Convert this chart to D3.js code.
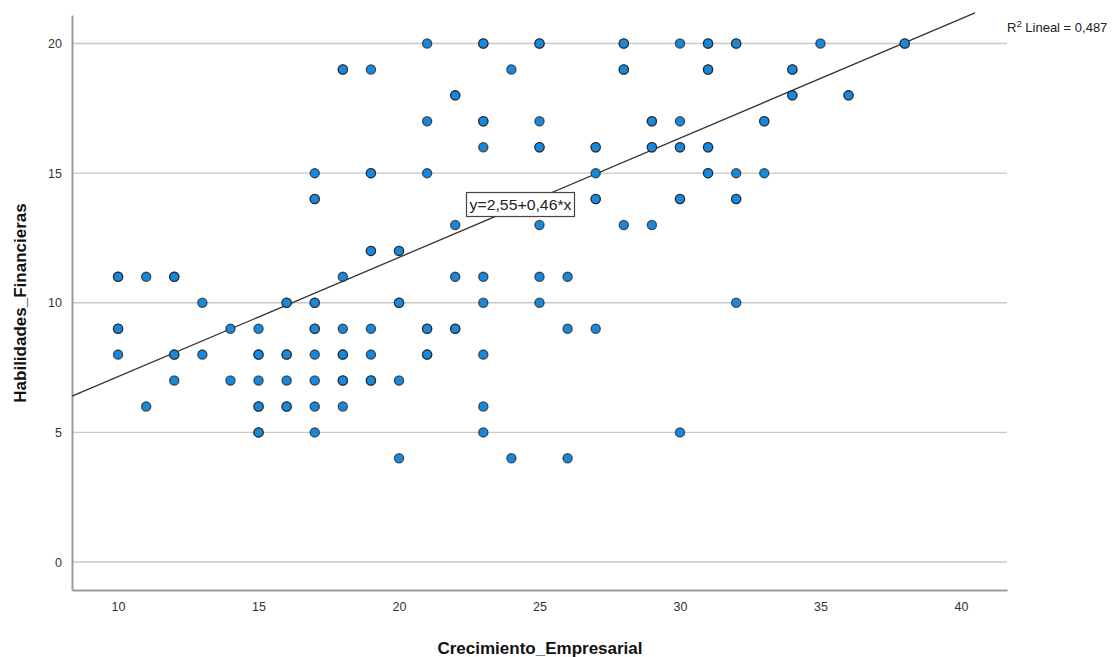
<!DOCTYPE html>
<html><head><meta charset="utf-8">
<script src="https://cdn.jsdelivr.net/npm/d3@7"></script>
<style>body{margin:0;background:#fff;}svg{display:block;font-family:"Liberation Sans",Arial,sans-serif;}</style>
</head><body><svg id="c" width="1119" height="657"></svg>
<script>
// Crecimiento_Empresarial (x), Habilidades_Financieras (y), n = overlap weight
const xVals = [21,23,25,28,30,31,32,35,38, 18,19,24,28,31,34, 22,34,36, 21,23,25,29,30,33, 23,25,27,29,30,31, 17,19,21,27,31,32,33, 17,27,30,32, 22,25,28,29, 19,20, 10,11,12,18,22,23,25,26, 13,16,17,20,23,25,32, 10,14,15,17,18,19,21,22,26,27, 10,12,13,15,16,17,18,19,21,23, 12,14,15,16,17,18,19,20, 11,15,16,17,18,23, 15,17,23,30, 20,24,26];
const yVals = [20,20,20,20,20,20,20,20,20, 19,19,19,19,19,19, 18,18,18, 17,17,17,17,17,17, 16,16,16,16,16,16, 15,15,15,15,15,15,15, 14,14,14,14, 13,13,13,13, 12,12, 11,11,11,11,11,11,11,11, 10,10,10,10,10,10,10, 9,9,9,9,9,9,9,9,9,9, 8,8,8,8,8,8,8,8,8,8, 7,7,7,7,7,7,7,7, 6,6,6,6,6,6, 5,5,5,5, 4,4,4];
const nVals = [1,2,2,2,1,2,2,1,2, 2,1,1,2,2,2, 2,2,2, 1,2,1,2,1,2, 1,2,2,2,2,2, 1,2,1,1,2,1,1, 2,2,2,2, 1,1,1,1, 2,2, 2,1,2,1,1,1,1,1, 1,2,2,2,1,1,1, 2,1,1,2,1,1,2,2,1,1, 1,2,1,2,2,1,2,1,2,1, 1,1,1,1,1,2,2,1, 1,2,2,1,1,1, 2,1,1,1, 1,1,1];
const xTicks = [10,15,20,25,30,35,40];
const yTicks = [0,5,10,15,20];
const intercept = 2.55, slope = 0.46;
const eqLabel = "y=2,55+0,46*x";
const r2Text = " Lineal = 0,487";
const xTitle = "Crecimiento_Empresarial";
const yTitle = "Habilidades_Financieras";

const svg = d3.select("#c");
const L = 72, R = 1007, T = 15, B = 590;
const x = d3.scaleLinear().domain([8.36, 41.64]).range([L, R]);
const y = d3.scaleLinear().domain([-1.08, 21.1]).range([B, T]);

// grid
svg.append("g").selectAll("line").data(yTicks).join("line")
  .attr("x1", L).attr("x2", R).attr("y1", d => y(d)).attr("y2", d => y(d))
  .attr("stroke", "#c8c8c8").attr("stroke-width", 1.3);

// axes
const xa = svg.append("g").attr("transform", `translate(0,${B})`)
  .call(d3.axisBottom(x).tickValues(xTicks).tickSize(0).tickPadding(12).tickFormat(d3.format("d")));
const ya = svg.append("g").attr("transform", `translate(${L},0)`)
  .call(d3.axisLeft(y).tickValues(yTicks).tickSize(0).tickPadding(10).tickFormat(d3.format("d")));
[xa, ya].forEach(a => {
  a.select(".domain").attr("stroke", "#9a9a9a").attr("stroke-width", 2);
  a.selectAll("text").attr("font-size", 12.5).attr("fill", "#333").attr("font-family", "Liberation Sans, Arial, sans-serif");
});

// regression line
const x0 = x.domain()[0], x1 = 40.5;
svg.append("line")
  .attr("x1", x(x0)).attr("y1", y(intercept + slope * x0))
  .attr("x2", x(x1)).attr("y2", y(intercept + slope * x1))
  .attr("stroke", "#333").attr("stroke-width", 1.3);

// points
const pts = [];
xVals.forEach((v, i) => { for (let k = 0; k < nVals[i]; k++) pts.push({x: v, y: yVals[i]}); });
svg.append("g").selectAll("circle").data(pts).join("circle")
  .attr("cx", d => x(d.x)).attr("cy", d => y(d.y)).attr("r", 4.6)
  .attr("fill", "#1a87d9").attr("stroke", "#1a1a1a").attr("stroke-opacity", 0.7).attr("stroke-width", 1.3);

// equation label
const eg = svg.append("g");
eg.append("rect").attr("x", 466.5).attr("y", 192.5).attr("width", 108).attr("height", 24)
  .attr("fill", "#fff").attr("stroke", "#444").attr("stroke-width", 1.2);
eg.append("text").attr("x", 469.5).attr("y", 210).attr("textLength", 102).attr("lengthAdjust", "spacingAndGlyphs")
  .attr("font-size", 15).attr("fill", "#222").text(eqLabel);

// R2 label
const rt = svg.append("text").attr("x", 1007).attr("y", 32).attr("font-size", 13).attr("fill", "#222");
rt.append("tspan").text("R");
rt.append("tspan").attr("dy", -5).attr("font-size", 9.5).text("2");
rt.append("tspan").attr("dy", 5).text(r2Text);

// titles
svg.append("text").attr("x", 540).attr("y", 654).attr("text-anchor", "middle")
  .attr("font-size", 17).attr("font-weight", "bold").attr("fill", "#111").text(xTitle);
svg.append("text").attr("transform", "translate(26,303) rotate(-90)").attr("text-anchor", "middle")
  .attr("font-size", 17).attr("font-weight", "bold").attr("fill", "#111").text(yTitle);
</script></body></html>
